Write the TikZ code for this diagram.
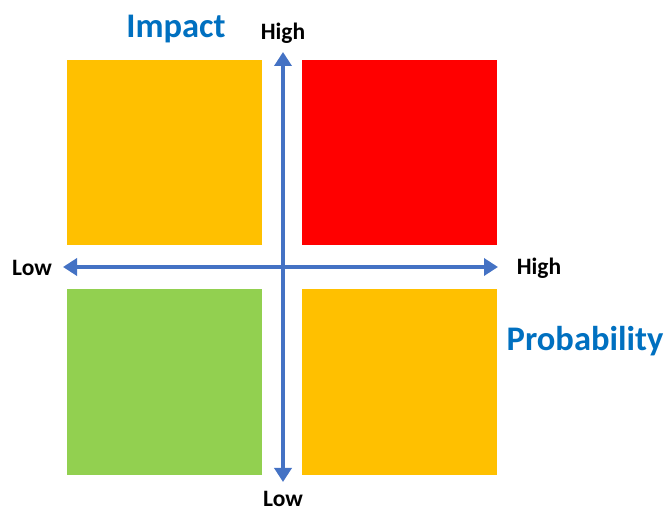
\documentclass[tikz,border=0pt]{standalone}
\usepackage{fontspec}
\setmainfont{Carlito}
\usetikzlibrary{arrows.meta}
\definecolor{amber}{HTML}{FFC000}
\definecolor{leaf}{HTML}{92D050}
\definecolor{axisblue}{HTML}{4472C4}
\definecolor{titleblue}{HTML}{0070C0}
\begin{document}
\begin{tikzpicture}[x=1pt, y=-1pt]
		\tikzset{box/.style={anchor=north west, inner sep=0pt, minimum width=195pt, minimum height=185pt}};
		\tikzset{ax/.style={draw=axisblue, line width=4.5pt, {Triangle[length=14pt, width=17pt]}-{Triangle[length=14pt, width=17pt]}}};
		\tikzset{lbl/.style={font=\bfseries\fontsize{23.5}{26}\selectfont}};
		\tikzset{ttl/.style={font=\bfseries\fontsize{34.5}{38}\selectfont, text=titleblue}};

		\useasboundingbox (0, 0) rectangle (665, 510);

		% the four quadrants
		\node[box, fill=amber] (tl) at (67, 60) {};
		\node[box, fill=red] (tr) at (302, 60) {};
		\node[box, fill=leaf, minimum height=186pt] (bl) at (67, 289) {};
		\node[box, fill=amber, minimum height=186pt] (br) at (302, 289) {};

		% axis ends
		\coordinate (vtop) at (283, 52);
		\coordinate (vbot) at (283, 482);
		\coordinate (hleft) at (63, 267);
		\coordinate (hright) at (498, 267);

		\draw[ax] (vbot) to (vtop);
		\draw[ax] (hleft) to (hright);

		\node[lbl] (high1) at (283, 33) {High};
		\node[lbl] (low1) at (283, 499) {Low};
		\node[lbl] (low2) at (32, 268) {Low};
		\node[lbl] (high2) at (539, 268) {High};

		\node[ttl] (impact) at (176, 29) {Impact};
		\node[ttl] (prob) at (585, 341) {Probability};
	\end{tikzpicture}
\end{document}
